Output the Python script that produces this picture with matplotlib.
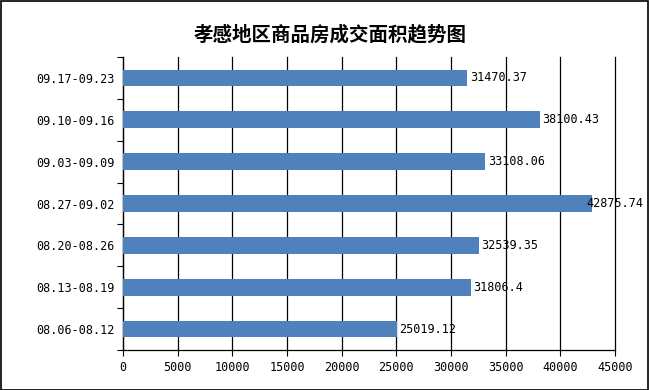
import numpy as np
import matplotlib.pyplot as plt
from matplotlib.patches import Rectangle

plt.rcParams['font.family'] = ['Noto Sans CJK SC', 'DejaVu Sans']

weeks = ["08.06-08.12", "08.13-08.19", "08.20-08.26", "08.27-09.02",
         "09.03-09.09", "09.10-09.16", "09.17-09.23"]
area = [25019.12, 31806.4, 32539.35, 42875.74, 33108.06, 38100.43, 31470.37]
area_labels = ["25019.12", "31806.4", "32539.35", "42875.74",
               "33108.06", "38100.43", "31470.37"]
x_ticks = [0, 5000, 10000, 15000, 20000, 25000, 30000, 35000, 40000, 45000]

fig = plt.figure(figsize=(6.49, 3.9), dpi=100)
ax = fig.add_axes([123 / 649, 1 - 350 / 390, (615 - 123) / 649, (350 - 57) / 390])

y = np.arange(len(weeks))
ax.barh(y, area, height=0.4, color="#4f81bd", zorder=3)

for yi, v, lab in zip(y, area, area_labels):
    # the longest bar's label sits over the bar end, as in the original
    dx = -4 if v == max(area) else 2
    ax.annotate(lab, (v, yi), xytext=(dx, 0), textcoords="offset points",
                va="center", ha="left", fontsize=8.5, family="DejaVu Sans Mono",
                zorder=4)

ax.set_xlim(0, 45000)
ax.set_ylim(-0.5, 6.5)
ax.set_xticks(x_ticks)
ax.set_xticklabels([str(t) for t in x_ticks], fontsize=8.5, family="DejaVu Sans Mono")
ax.set_yticks(np.arange(-0.5, 7, 1), minor=False)
ax.set_yticklabels([])
ax.set_yticks(y, minor=True)
ax.set_yticklabels(weeks, minor=True, fontsize=8.5, family="DejaVu Sans Mono")
ax.tick_params(axis="y", which="minor", length=0, pad=6)
ax.tick_params(axis="y", which="major", length=4, direction="out", color="black")
ax.tick_params(axis="x", length=4, direction="out", color="black", pad=4)

ax.grid(axis="x", color="black", linewidth=0.9, zorder=1)
for gl in ax.get_xgridlines():
    gl.set_clip_on(False)
for s in ["top", "right"]:
    ax.spines[s].set_visible(False)
ax.spines["left"].set_linewidth(0.9)
ax.spines["bottom"].set_linewidth(0.9)

fig.text(330 / 649, 1 - 35 / 390, "孝感地区商品房成交面积趋势图", ha="center", va="center",
         fontsize=14, fontweight="bold")

fig.patches.append(Rectangle((0.5 / 649, 0.5 / 390), 647.5 / 649, 388.5 / 390,
                             transform=fig.transFigure, fill=False,
                             edgecolor="black", linewidth=1.2))

fig.savefig("out.png", dpi=100)
